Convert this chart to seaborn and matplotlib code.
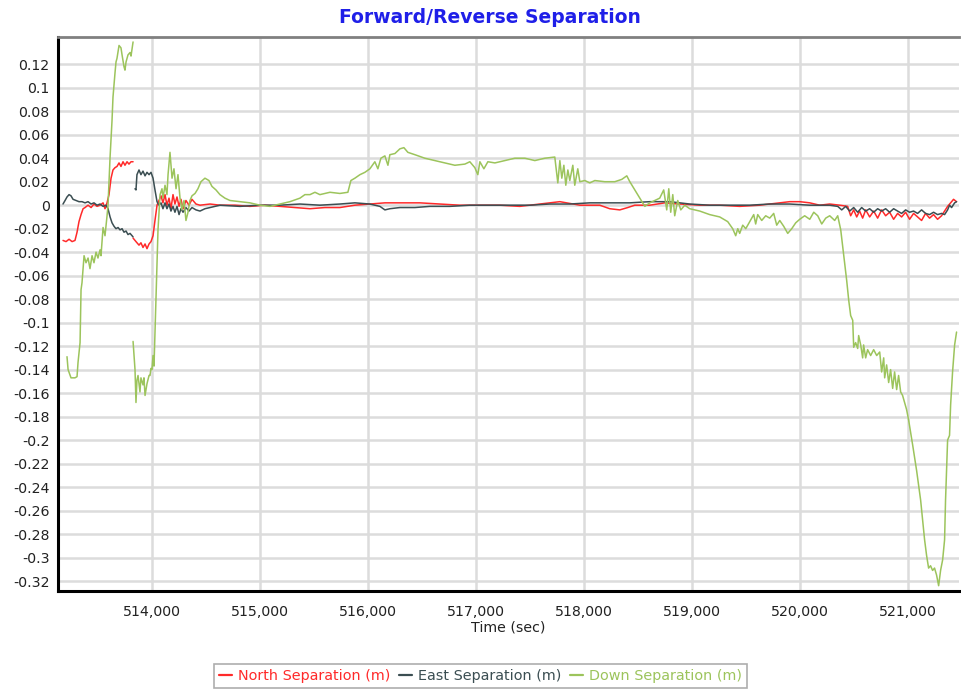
import numpy as np
import pandas as pd
import matplotlib.pyplot as plt
import seaborn as sns
from matplotlib.lines import Line2D
from matplotlib.ticker import MultipleLocator, FixedLocator, FuncFormatter

# Down separation (two segments, gap near 513825 s)
down_t1 = [513213, 513223, 513250, 513287, 513306, 513315, 513334, 513343, 513352, 513371,
           513389, 513408, 513426, 513445, 513463, 513482, 513500, 513519, 513528, 513547,
           513565, 513584, 513593, 513612, 513630, 513639, 513658, 513667, 513676, 513695,
           513713, 513723, 513741, 513750, 513760, 513778, 513797, 513806, 513825]
down_v1 = [-0.129, -0.140, -0.147, -0.147, -0.146, -0.134, -0.117, -0.072, -0.066, -0.043,
           -0.049, -0.045, -0.054, -0.043, -0.049, -0.040, -0.045, -0.038, -0.043, -0.019,
           -0.026, -0.009, 0.000, 0.041, 0.072, 0.092, 0.113, 0.122, 0.125, 0.136,
           0.134, 0.128, 0.118, 0.115, 0.122, 0.128, 0.130, 0.127, 0.139]
down_t2 = [513825, 513843, 513852, 513861, 513871, 513889, 513898, 513917, 513926, 513936,
           513954, 513973, 513982, 513991, 514000, 514010, 514019, 514037, 514056, 514075,
           514093, 514102, 514121, 514139, 514149, 514167, 514186, 514204, 514223, 514241,
           514260, 514278, 514297, 514315, 514334, 514352, 514371, 514399, 514426, 514454,
           514491, 514528, 514556, 514593, 514630, 514676, 514723, 514815, 514908, 515001,
           515093, 515186, 515278, 515371, 515417, 515464, 515510, 515556, 515602, 515649,
           515741, 515815, 515843, 515880, 515927, 515973, 516019, 516065, 516093, 516121,
           516158, 516186, 516204, 516251, 516297, 516334, 516371, 516436, 516528, 516667,
           516806, 516899, 516945, 516991, 517019, 517038, 517075, 517112, 517177, 517269,
           517362, 517455, 517547, 517640, 517732, 517760, 517779, 517797, 517816, 517834,
           517853, 517871, 517899, 517917, 517945, 517964, 518010, 518056, 518103, 518195,
           518288, 518353, 518399, 518427, 518473, 518519, 518566, 518612, 518658, 518704,
           518741, 518769, 518788, 518806, 518825, 518843, 518871, 518899, 518936, 518982,
           519075, 519167, 519260, 519334, 519380, 519408, 519427, 519445, 519473, 519501,
           519538, 519575, 519593, 519612, 519649, 519686, 519723, 519760, 519788, 519816,
           519853, 519890, 519927, 519964, 520001, 520047, 520094, 520131, 520168, 520205,
           520242, 520279, 520325, 520353, 520381, 520409, 520436, 520455, 520473, 520492,
           520501, 520519, 520538, 520547, 520566, 520584, 520593, 520612, 520630, 520658,
           520686, 520714, 520742, 520760, 520779, 520788, 520806, 520825, 520843, 520862,
           520880, 520899, 520917, 520936, 520954, 520973, 520991, 521010, 521028, 521047,
           521066, 521084, 521102, 521121, 521139, 521158, 521176, 521195, 521213, 521232,
           521250, 521269, 521288, 521306, 521325, 521343, 521352, 521371, 521389, 521399,
           521417, 521436, 521454]
down_v2 = [-0.116, -0.140, -0.168, -0.149, -0.145, -0.159, -0.147, -0.153, -0.147, -0.162,
           -0.152, -0.145, -0.145, -0.139, -0.140, -0.128, -0.137, -0.081, -0.021, 0.009,
           0.014, 0.006, 0.017, 0.009, 0.026, 0.045, 0.023, 0.031, 0.014, 0.026,
           0.006, -0.004, 0.004, -0.013, -0.006, 0.004, 0.008, 0.010, 0.014, 0.020,
           0.023, 0.021, 0.016, 0.013, 0.009, 0.006, 0.004, 0.003, 0.002, 0.000,
           -0.001, 0.001, 0.003, 0.006, 0.009, 0.009, 0.011, 0.009, 0.010, 0.011,
           0.010, 0.011, 0.021, 0.023, 0.026, 0.028, 0.031, 0.037, 0.031, 0.040,
           0.042, 0.034, 0.043, 0.044, 0.048, 0.049, 0.045, 0.043, 0.040, 0.037,
           0.034, 0.035, 0.037, 0.032, 0.026, 0.037, 0.031, 0.037, 0.036, 0.038,
           0.040, 0.040, 0.038, 0.040, 0.041, 0.019, 0.038, 0.023, 0.034, 0.017,
           0.030, 0.021, 0.034, 0.017, 0.031, 0.020, 0.021, 0.019, 0.021, 0.020,
           0.020, 0.022, 0.025, 0.020, 0.013, 0.006, -0.001, 0.002, 0.004, 0.006,
           0.013, -0.004, 0.014, -0.006, 0.009, -0.009, 0.004, -0.004, 0.000, -0.003,
           -0.005, -0.008, -0.010, -0.014, -0.020, -0.026, -0.020, -0.024, -0.017, -0.020,
           -0.014, -0.008, -0.016, -0.008, -0.013, -0.009, -0.011, -0.007, -0.017, -0.013,
           -0.018, -0.024, -0.020, -0.015, -0.012, -0.009, -0.012, -0.006, -0.009, -0.016,
           -0.011, -0.009, -0.013, -0.009, -0.021, -0.043, -0.064, -0.081, -0.094, -0.098,
           -0.121, -0.117, -0.122, -0.111, -0.119, -0.130, -0.119, -0.130, -0.123, -0.128,
           -0.123, -0.128, -0.125, -0.142, -0.130, -0.147, -0.136, -0.151, -0.140, -0.156,
           -0.142, -0.157, -0.145, -0.159, -0.162, -0.168, -0.174, -0.183, -0.193, -0.204,
           -0.215, -0.226, -0.238, -0.251, -0.268, -0.285, -0.298, -0.309, -0.307, -0.311,
           -0.309, -0.315, -0.324, -0.311, -0.302, -0.285, -0.251, -0.200, -0.196, -0.170,
           -0.142, -0.119, -0.108]

# North separation
north_t1 = [513176, 513204, 513232, 513260, 513287, 513306, 513324, 513343, 513362, 513380,
            513408, 513436, 513463, 513491, 513519, 513547, 513565, 513584, 513602, 513621,
            513639, 513658, 513676, 513695, 513713, 513732, 513750, 513769, 513787, 513806,
            513825]
north_v1 = [-0.030, -0.031, -0.029, -0.031, -0.030, -0.023, -0.014, -0.008, -0.003, -0.002,
            0.000, -0.002, 0.001, -0.001, 0.000, 0.002, -0.003, 0.002, 0.009, 0.023,
            0.030, 0.032, 0.033, 0.036, 0.033, 0.037, 0.034, 0.037, 0.035, 0.037,
            0.037]
north_t2 = [513825, 513852, 513880, 513898, 513917, 513936, 513954, 513973, 513991, 514010,
            514028, 514047, 514065, 514084, 514102, 514121, 514139, 514158, 514176, 514195,
            514213, 514232, 514251, 514269, 514288, 514315, 514343, 514371, 514408, 514445,
            514538, 514630, 514769, 514908, 515047, 515186, 515325, 515464, 515602, 515741,
            515880, 516019, 516158, 516297, 516482, 516667, 516852, 517038, 517223, 517408,
            517593, 517779, 517964, 518149, 518241, 518334, 518408, 518473, 518612, 518751,
            518890, 519075, 519260, 519445, 519630, 519816, 519908, 520001, 520094, 520186,
            520279, 520371, 520445, 520473, 520501, 520529, 520556, 520584, 520612, 520649,
            520686, 520723, 520760, 520797, 520834, 520871, 520908, 520945, 520982, 521019,
            521056, 521093, 521130, 521167, 521204, 521241, 521278, 521315, 521343, 521371,
            521399, 521426, 521454]
north_v2 = [-0.028, -0.031, -0.034, -0.032, -0.036, -0.033, -0.037, -0.033, -0.031, -0.026,
            -0.013, 0.000, 0.004, 0.008, 0.002, 0.009, 0.000, 0.006, -0.003, 0.009,
            0.001, 0.007, -0.001, 0.005, -0.003, 0.004, 0.000, 0.005, 0.001, 0.000,
            0.001, 0.000, 0.000, -0.001, 0.000, -0.001, -0.002, -0.003, -0.002, -0.002,
            0.000, 0.001, 0.002, 0.002, 0.002, 0.001, 0.000, 0.000, 0.000, -0.001,
            0.001, 0.003, 0.000, 0.000, -0.003, -0.004, -0.002, 0.000, 0.000, 0.002,
            0.001, 0.000, 0.000, -0.001, 0.000, 0.002, 0.003, 0.003, 0.002, 0.000,
            0.001, 0.000, -0.001, -0.009, -0.004, -0.010, -0.005, -0.011, -0.004, -0.010,
            -0.005, -0.011, -0.004, -0.009, -0.006, -0.012, -0.007, -0.010, -0.006, -0.012,
            -0.007, -0.010, -0.013, -0.007, -0.011, -0.008, -0.012, -0.009, -0.005, -0.001,
            0.002, 0.005, 0.003]

# East separation
east_t1 = [513176, 513195, 513213, 513232, 513250, 513269, 513297, 513324, 513352, 513380,
           513408, 513436, 513463, 513491, 513519, 513547, 513574, 513593, 513612, 513630,
           513649, 513667, 513686, 513704, 513723, 513741, 513760, 513778, 513797, 513825]
east_v1 = [0.001, 0.004, 0.007, 0.009, 0.008, 0.005, 0.004, 0.003, 0.003, 0.002,
           0.003, 0.001, 0.002, 0.000, 0.001, -0.001, 0.000, -0.003, -0.010, -0.015,
           -0.018, -0.020, -0.019, -0.021, -0.020, -0.023, -0.022, -0.025, -0.024, -0.027]
east_t2 = [513843, 513852, 513861, 513880, 513898, 513917, 513936, 513954, 513973, 513991,
           514010, 514028, 514047, 514065, 514084, 514102, 514121, 514139, 514158, 514176,
           514195, 514213, 514232, 514251, 514269, 514288, 514315, 514343, 514371, 514408,
           514445, 514491, 514538, 514630, 514815, 515001, 515186, 515371, 515556, 515741,
           515880, 516019, 516112, 516158, 516204, 516297, 516436, 516575, 516760, 516945,
           517130, 517316, 517501, 517686, 517871, 518056, 518241, 518427, 518612, 518797,
           518982, 519167, 519353, 519538, 519723, 519908, 520094, 520279, 520353, 520390,
           520427, 520464, 520501, 520538, 520575, 520612, 520649, 520686, 520723, 520760,
           520797, 520834, 520871, 520908, 520945, 520982, 521019, 521056, 521093, 521130,
           521167, 521204, 521241, 521278, 521315, 521343, 521371, 521389, 521408, 521436,
           521454]
east_v2 = [0.014, 0.013, 0.026, 0.030, 0.026, 0.029, 0.025, 0.028, 0.026, 0.028,
           0.023, 0.013, 0.003, 0.000, 0.002, -0.003, 0.002, -0.003, 0.001, -0.005,
           -0.001, -0.006, -0.001, -0.008, -0.003, -0.006, -0.002, -0.005, -0.002, -0.004,
           -0.005, -0.003, -0.002, 0.000, -0.001, 0.000, 0.000, 0.001, 0.000, 0.001,
           0.002, 0.001, -0.001, -0.004, -0.003, -0.002, -0.002, -0.001, -0.001, 0.000,
           0.000, 0.000, 0.000, 0.001, 0.001, 0.002, 0.002, 0.002, 0.003, 0.003,
           0.001, 0.000, 0.000, 0.000, 0.001, 0.001, 0.000, 0.000, -0.001, -0.004,
           -0.001, -0.005, -0.002, -0.006, -0.002, -0.005, -0.003, -0.006, -0.003, -0.005,
           -0.003, -0.006, -0.003, -0.005, -0.007, -0.004, -0.006, -0.005, -0.007, -0.004,
           -0.007, -0.008, -0.006, -0.008, -0.007, -0.008, -0.004, 0.000, -0.002, 0.002,
           0.003]

y_ticks = [-0.32, -0.30, -0.28, -0.26, -0.24, -0.22, -0.20, -0.18, -0.16, -0.14, -0.12,
           -0.10, -0.08, -0.06, -0.04, -0.02, 0.0, 0.02, 0.04, 0.06, 0.08, 0.10, 0.12]

labels = ["North Separation (m)", "East Separation (m)", "Down Separation (m)"]
colors = ["#ff2a2a", "#3b4e52", "#9cc45c"]

frames = []
for name, segs in [(labels[0], [(north_t1, north_v1), (north_t2, north_v2)]),
                   (labels[1], [(east_t1, east_v1), (east_t2, east_v2)]),
                   (labels[2], [(down_t1, down_v1), (down_t2, down_v2)])]:
    for i, (t, v) in enumerate(segs):
        frames.append(pd.DataFrame({"t": t, "v": v, "series": name, "seg": i}))
df = pd.concat(frames, ignore_index=True)

sns.set_style("white")
plt.rcParams["font.family"] = ["DejaVu Sans"]

fig = plt.figure(figsize=(9.61, 6.90), dpi=100)
ax = fig.add_axes([0.0604, 0.1435, 0.937, 0.8025])

sns.lineplot(data=df, x="t", y="v", hue="series", units="seg", estimator=None,
             sort=False, palette=dict(zip(labels, colors)), hue_order=labels,
             linewidth=1.1, legend=False, ax=ax)

ax.set_xlim(513130, 521472)
ax.set_ylim(-0.3285, 0.143)
ax.xaxis.set_major_locator(MultipleLocator(1000))
ax.xaxis.set_minor_locator(MultipleLocator(200))
ax.yaxis.set_major_locator(FixedLocator(y_ticks))
ax.yaxis.set_minor_locator(MultipleLocator(0.004))
ax.xaxis.set_major_formatter(FuncFormatter(lambda x, p: f"{int(round(x)):,}"))
ax.yaxis.set_major_formatter(FuncFormatter(lambda y, p: f"{round(y, 2):g}" if abs(y) > 1e-9 else "0"))

ax.grid(True, which="major", color="#dcdcdc", linewidth=1.8)
ax.set_axisbelow(True)
ax.tick_params(axis="both", which="major", labelsize=10.2, colors="#222222", length=4, width=0.8)
ax.tick_params(axis="both", which="minor", length=2.5, width=0.6, colors="#555555")
ax.tick_params(axis="x", pad=6)
ax.tick_params(axis="y", pad=2)

for s in ["left", "bottom"]:
    ax.spines[s].set_color("black")
    ax.spines[s].set_linewidth(2.2)
ax.spines["top"].set_color("#808080")
ax.spines["top"].set_linewidth(2)
ax.spines["right"].set_visible(False)

ax.set_xlabel("Time (sec)", fontsize=10.2, color="#222222", labelpad=1)
ax.set_ylabel("")
fig.suptitle("Forward/Reverse Separation", x=0.51, y=0.988, fontsize=13.5,
             fontweight="bold", color="#1f1fe8")

handles = [Line2D([0], [0], color=c, linewidth=1.6) for c in colors]
leg = fig.legend(handles, labels, loc="center", bbox_to_anchor=(0.5, 0.02), ncol=3,
                 fontsize=10.4, frameon=True, fancybox=False, handlelength=0.9,
                 handletextpad=0.4, columnspacing=0.6, borderpad=0.35,
                 labelcolor=colors)
leg.get_frame().set_edgecolor("#999999")
leg.get_frame().set_linewidth(1.2)

fig.savefig("out.png", dpi=100)
